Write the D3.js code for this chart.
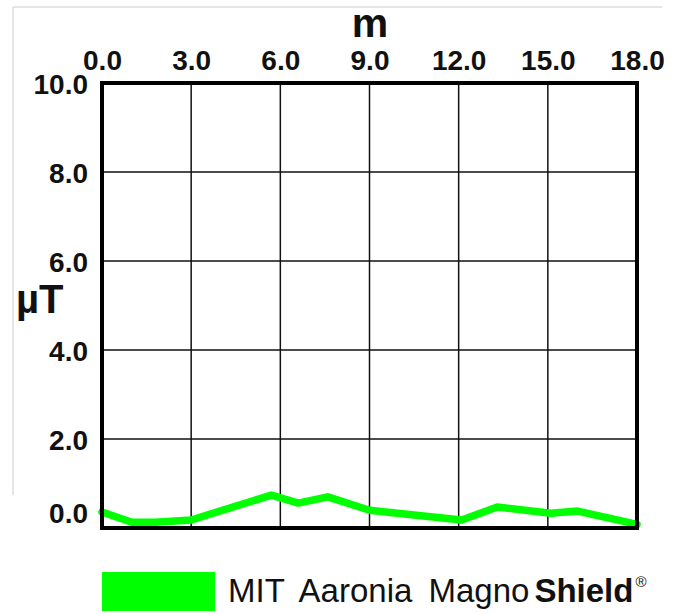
<!DOCTYPE html>
<html><head><meta charset="utf-8">
<script src="https://cdn.jsdelivr.net/npm/d3@7"></script>
<style>html,body{margin:0;padding:0;background:#fff;}svg{display:block;}</style>
</head><body>
<script>
// data
const xTicks = [0, 3, 6, 9, 12, 15, 18];
const yTicks = [0, 2, 4, 6, 8, 10];
const meters = [0, 1.0, 1.8, 3.0, 5.7, 6.6, 7.6, 9.0, 10.1, 12.1, 13.3, 15.1, 16.0, 18.0];
const microTesla = [0.36, 0.13, 0.13, 0.18, 0.74, 0.56, 0.70, 0.40, 0.32, 0.18, 0.47, 0.33, 0.38, 0.08];
const xTitle = "m";
const yTitle = "µT";
const legendRegular = "MIT Aaronia Magno";
const legendBold = "Shield";

const W = 673, H = 614;
const L = 102, R = 637, T = 83, B = 528;
const green = "#0f0";
const font = "'Liberation Sans', Arial, sans-serif";

const svg = d3.select("body").append("svg").attr("width", W).attr("height", H);

// faint image border
svg.append("line").attr("x1", 13).attr("x2", 662).attr("y1", 7).attr("y2", 7).attr("stroke", "#ddd").attr("stroke-width", 1.5);
svg.append("line").attr("x1", 13).attr("x2", 13).attr("y1", 7).attr("y2", 495).attr("stroke", "#ddd").attr("stroke-width", 1.5);

const x = d3.scaleLinear().domain([0, 18]).range([L, R]);
const y = d3.scaleLinear().domain([0, 10]).range([B, T]);

// gridlines
svg.append("g").selectAll("line").data(xTicks.slice(1, -1)).join("line")
  .attr("x1", d => x(d)).attr("x2", d => x(d)).attr("y1", T).attr("y2", B)
  .attr("stroke", "#111").attr("stroke-width", 1.5);
svg.append("g").selectAll("line").data(yTicks.slice(1, -1)).join("line")
  .attr("x1", L).attr("x2", R).attr("y1", d => y(d)).attr("y2", d => y(d))
  .attr("stroke", "#111").attr("stroke-width", 1.5);

// top axis labels
const topAxis = d3.axisTop(x).tickValues(xTicks).tickFormat(d3.format(".1f")).tickSize(0).tickPadding(13);
const gt = svg.append("g").attr("transform", `translate(0,${T})`).call(topAxis);
gt.select(".domain").remove();
gt.selectAll("text").attr("font-family", font).attr("font-weight", "bold").attr("font-size", 28).attr("fill", "#111");

// left axis labels
const leftAxis = d3.axisLeft(y).tickValues(yTicks).tickFormat(d3.format(".1f")).tickSize(0).tickPadding(14);
const gl = svg.append("g").attr("transform", `translate(${L},0)`).call(leftAxis);
gl.select(".domain").remove();
gl.selectAll("text").attr("font-family", font).attr("font-weight", "bold").attr("font-size", 28).attr("fill", "#111")
  .attr("dy", d => d === 0 ? "-0.2em" : "0.36em");

// data line
const line = d3.line().x((d, i) => x(meters[i])).y(d => y(d));
svg.append("path").datum(microTesla).attr("d", line)
  .attr("fill", "none").attr("stroke", green).attr("stroke-width", 7.5)
  .attr("stroke-linejoin", "round").attr("stroke-linecap", "round");

// frame
svg.append("rect").attr("x", L).attr("y", T).attr("width", R - L).attr("height", B - T)
  .attr("fill", "none").attr("stroke", "#000").attr("stroke-width", 4);

// titles
svg.append("text").attr("x", 370).attr("y", 37).attr("text-anchor", "middle")
  .attr("font-family", font).attr("font-weight", "bold").attr("font-size", 41).attr("fill", "#111").text(xTitle);
svg.append("text").attr("x", 16).attr("y", 313)
  .attr("font-family", font).attr("font-weight", "bold").attr("font-size", 40).attr("fill", "#111").text(yTitle);

// legend
svg.append("rect").attr("x", 102).attr("y", 572).attr("width", 113).attr("height", 39).attr("fill", green);
const lt = svg.append("text").attr("x", 228).attr("y", 602)
  .attr("font-family", font).attr("font-size", 33).attr("fill", "#111").attr("word-spacing", 7);
lt.append("tspan").text(legendRegular);
lt.append("tspan").attr("dx", 5).attr("font-weight", "bold").text(legendBold);
lt.append("tspan").attr("font-size", 15).attr("dy", -15).attr("dx", 2).text("®");
</script>
</body></html>
